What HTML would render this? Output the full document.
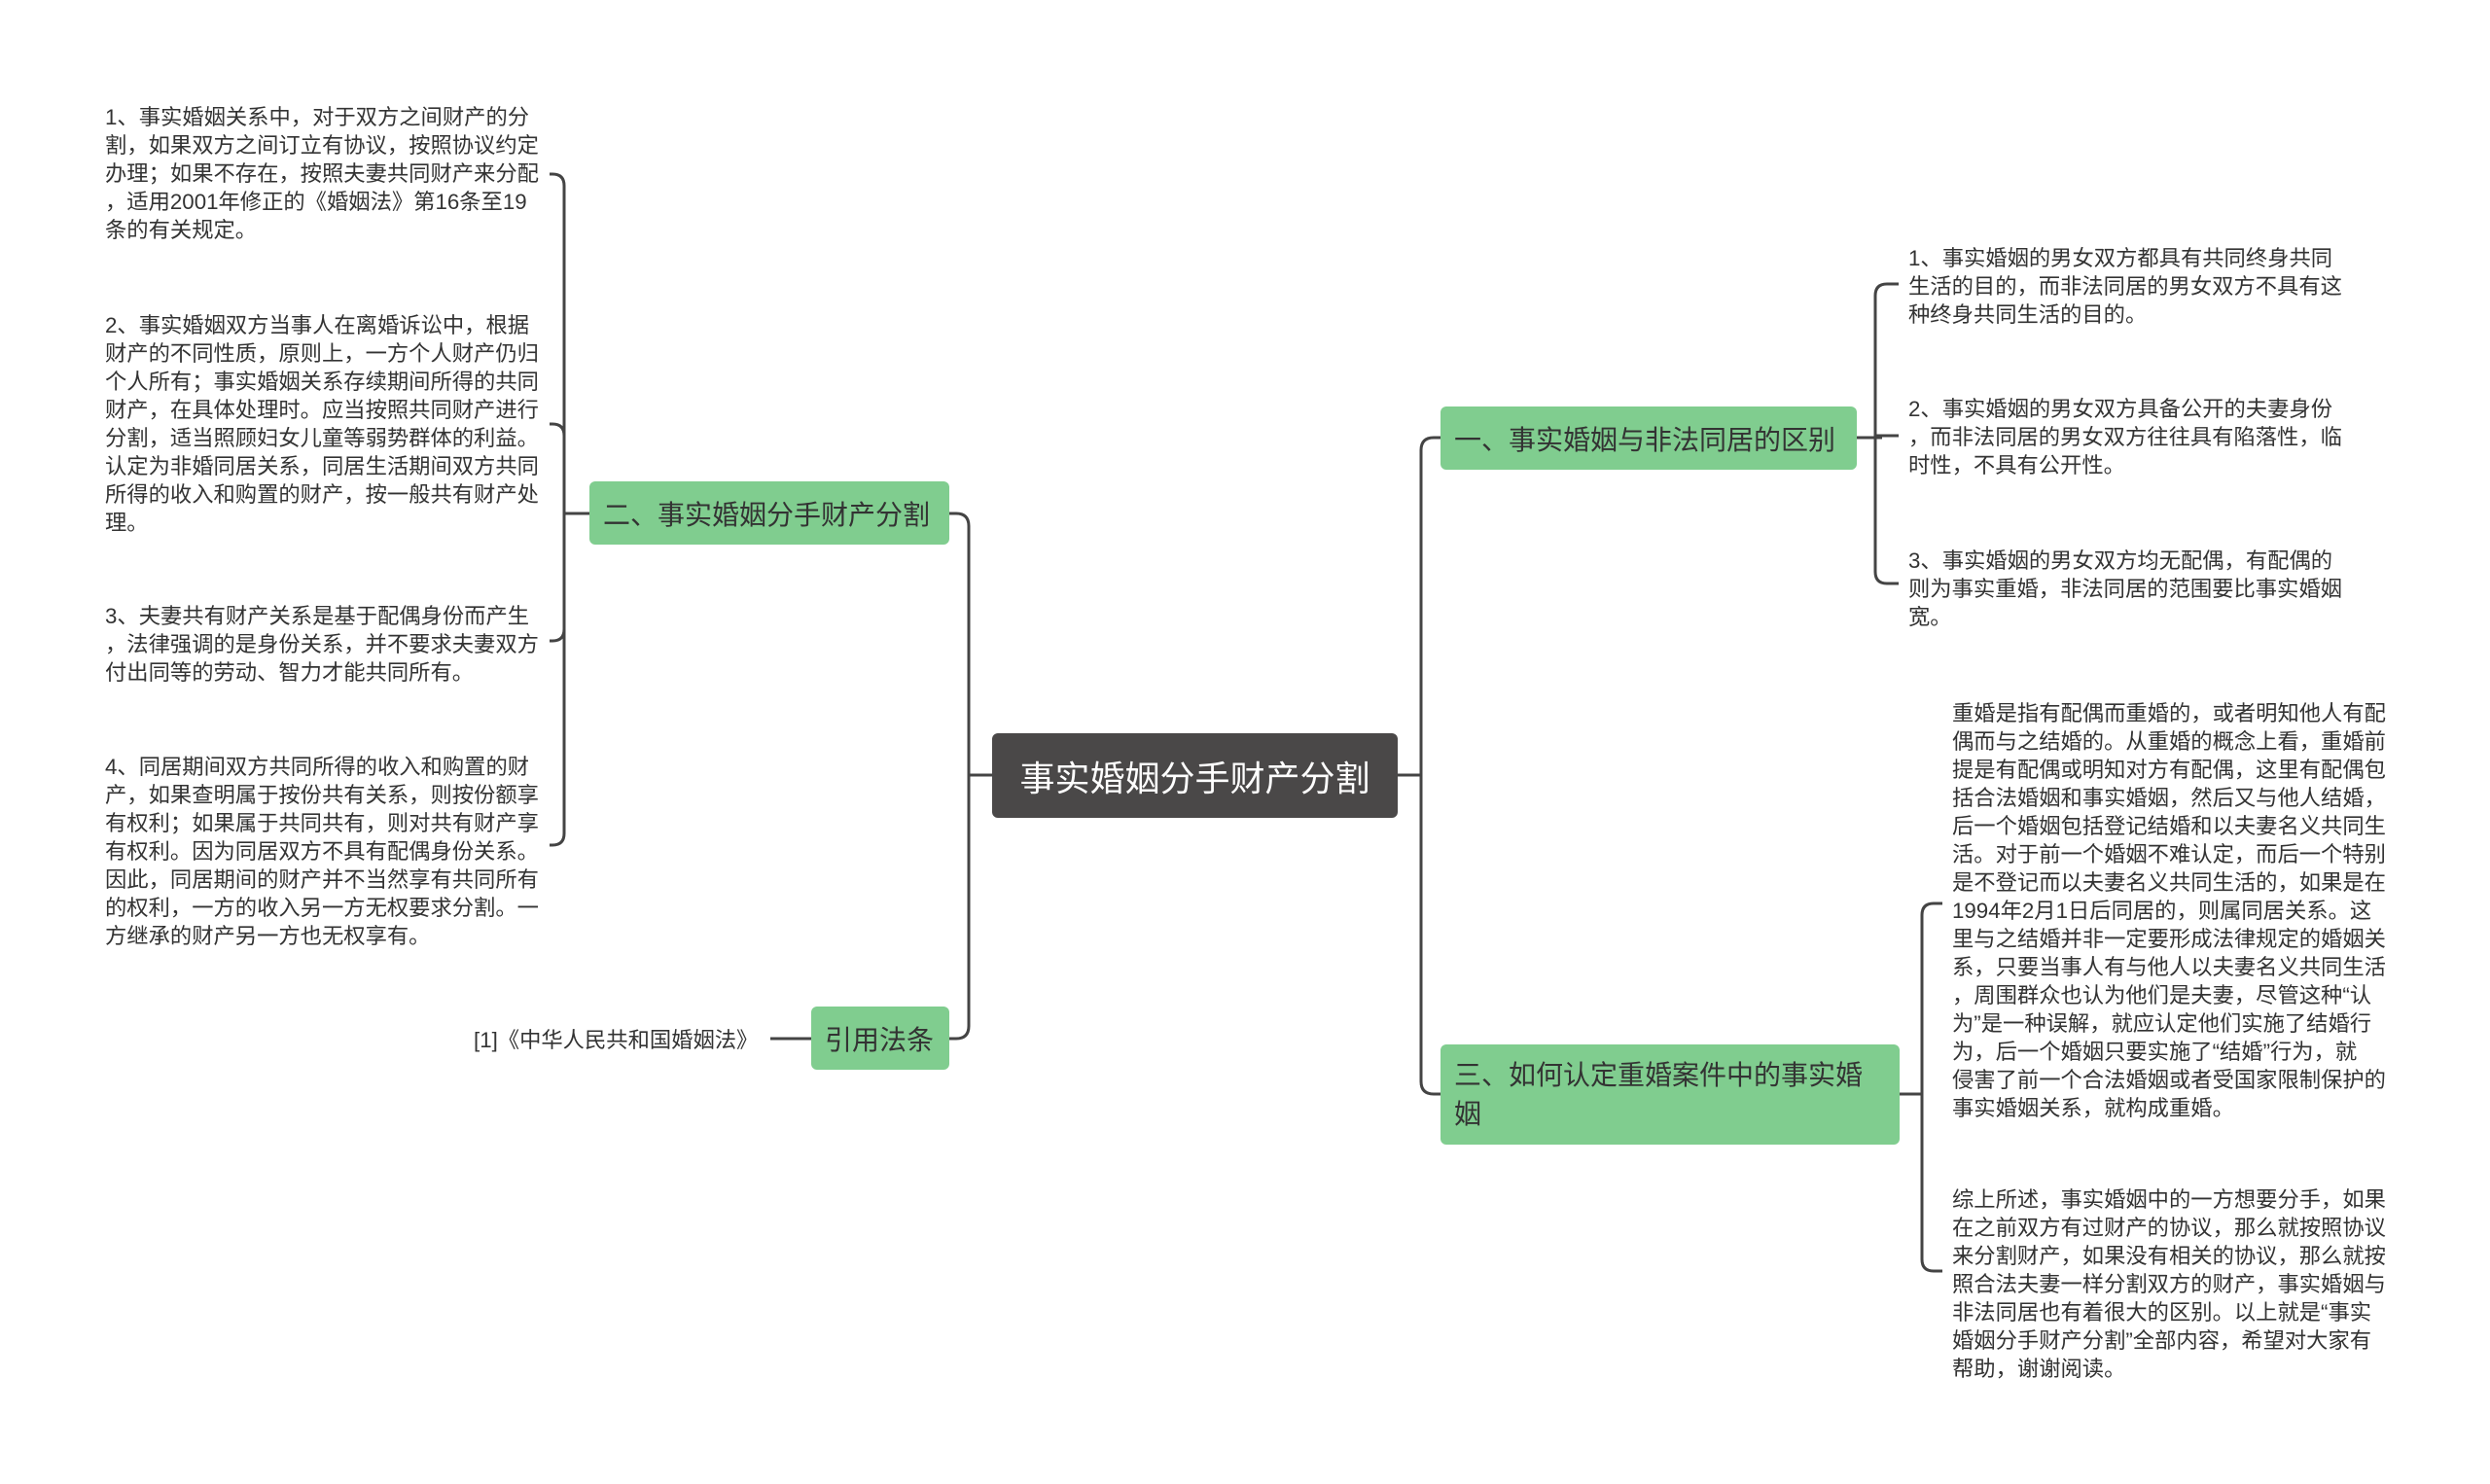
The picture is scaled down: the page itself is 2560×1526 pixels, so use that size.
<!DOCTYPE html>
<html><head><meta charset="utf-8"><style>
body{margin:0;width:2560px;height:1526px;background:#fff;position:relative;overflow:hidden;font-family:"Liberation Sans","Noto Sans CJK SC",sans-serif;color:#333}
.t{position:absolute;font-size:22.3px;line-height:29px;white-space:nowrap}
.n{position:absolute;background:#80cd8f;border-radius:6px;color:#333;font-size:28px;box-sizing:border-box;padding:0 14px;display:flex;align-items:center;white-space:nowrap}
</style></head><body>
<svg width="2560" height="1526" style="position:absolute;left:0;top:0" fill="none" stroke="#444" stroke-width="3">
<path d="M1437 797 H1461"/>
<path d="M1481 450 H1474 Q1461 450 1461 463 V1112 Q1461 1125 1474 1125 H1481"/>
<path d="M1020 797 H996"/>
<path d="M976 528 H983 Q996 528 996 541 V1055 Q996 1068 983 1068 H976"/>
<path d="M834 1068 H792"/>
<path d="M606 528 H580"/>
<path d="M565 179 H568 Q580 179 580 191 V857 Q580 869 568 869 H565"/>
<path d="M565 436 H568 Q580 436 580 448 V647 Q580 659 568 659 H565"/>
<path d="M1909 450 H1935"/>
<path d="M1952 292 H1940 Q1928 292 1928 304 V588 Q1928 600 1940 600 H1952"/>
<path d="M1928 448 H1952"/>
<path d="M1953 1125 H1976"/>
<path d="M1997 929 H1988 Q1976 929 1976 941 V1295 Q1976 1307 1988 1307 H1997"/>
</svg>
<div class="n" style="left:1020px;top:754px;width:417px;height:87px;background:#4a4848;color:#fff;font-size:36px;justify-content:center">事实婚姻分手财产分割</div>
<div class="n" style="left:606px;top:495px;width:370px;height:65px">二、事实婚姻分手财产分割</div>
<div class="n" style="left:834px;top:1035px;width:142px;height:65px">引用法条</div>
<div class="n" style="left:1481px;top:418px;width:428px;height:65px">一、事实婚姻与非法同居的区别</div>
<div class="n" style="left:1481px;top:1074px;width:472px;height:103px;line-height:40px;white-space:normal">三、如何认定重婚案件中的事实婚姻</div>
<div class="t" style="left:108px;top:106px">1、事实婚姻关系中，对于双方之间财产的分<br>割，如果双方之间订立有协议，按照协议约定<br>办理；如果不存在，按照夫妻共同财产来分配<br>，适用2001年修正的《婚姻法》第16条至19<br>条的有关规定。</div>
<div class="t" style="left:108px;top:320px">2、事实婚姻双方当事人在离婚诉讼中，根据<br>财产的不同性质，原则上，一方个人财产仍归<br>个人所有；事实婚姻关系存续期间所得的共同<br>财产，在具体处理时。应当按照共同财产进行<br>分割，适当照顾妇女儿童等弱势群体的利益。<br>认定为非婚同居关系，同居生活期间双方共同<br>所得的收入和购置的财产，按一般共有财产处<br>理。</div>
<div class="t" style="left:108px;top:619px">3、夫妻共有财产关系是基于配偶身份而产生<br>，法律强调的是身份关系，并不要求夫妻双方<br>付出同等的劳动、智力才能共同所有。</div>
<div class="t" style="left:108px;top:774px">4、同居期间双方共同所得的收入和购置的财<br>产，如果查明属于按份共有关系，则按份额享<br>有权利；如果属于共同共有，则对共有财产享<br>有权利。因为同居双方不具有配偶身份关系。<br>因此，同居期间的财产并不当然享有共同所有<br>的权利，一方的收入另一方无权要求分割。一<br>方继承的财产另一方也无权享有。</div>
<div class="t" style="left:487px;top:1055px">[1]《中华人民共和国婚姻法》</div>
<div class="t" style="left:1962px;top:251px">1、事实婚姻的男女双方都具有共同终身共同<br>生活的目的，而非法同居的男女双方不具有这<br>种终身共同生活的目的。</div>
<div class="t" style="left:1962px;top:406px">2、事实婚姻的男女双方具备公开的夫妻身份<br>，而非法同居的男女双方往往具有陷落性，临<br>时性，不具有公开性。</div>
<div class="t" style="left:1962px;top:562px">3、事实婚姻的男女双方均无配偶，有配偶的<br>则为事实重婚，非法同居的范围要比事实婚姻<br>宽。</div>
<div class="t" style="left:2007px;top:719px">重婚是指有配偶而重婚的，或者明知他人有配<br>偶而与之结婚的。从重婚的概念上看，重婚前<br>提是有配偶或明知对方有配偶，这里有配偶包<br>括合法婚姻和事实婚姻，然后又与他人结婚，<br>后一个婚姻包括登记结婚和以夫妻名义共同生<br>活。对于前一个婚姻不难认定，而后一个特别<br>是不登记而以夫妻名义共同生活的，如果是在<br>1994年2月1日后同居的，则属同居关系。这<br>里与之结婚并非一定要形成法律规定的婚姻关<br>系，只要当事人有与他人以夫妻名义共同生活<br>，周围群众也认为他们是夫妻，尽管这种“认<br>为”是一种误解，就应认定他们实施了结婚行<br>为，后一个婚姻只要实施了“结婚”行为，就<br>侵害了前一个合法婚姻或者受国家限制保护的<br>事实婚姻关系，就构成重婚。</div>
<div class="t" style="left:2007px;top:1219px">综上所述，事实婚姻中的一方想要分手，如果<br>在之前双方有过财产的协议，那么就按照协议<br>来分割财产，如果没有相关的协议，那么就按<br>照合法夫妻一样分割双方的财产，事实婚姻与<br>非法同居也有着很大的区别。以上就是“事实<br>婚姻分手财产分割”全部内容，希望对大家有<br>帮助，谢谢阅读。</div>
</body></html>
